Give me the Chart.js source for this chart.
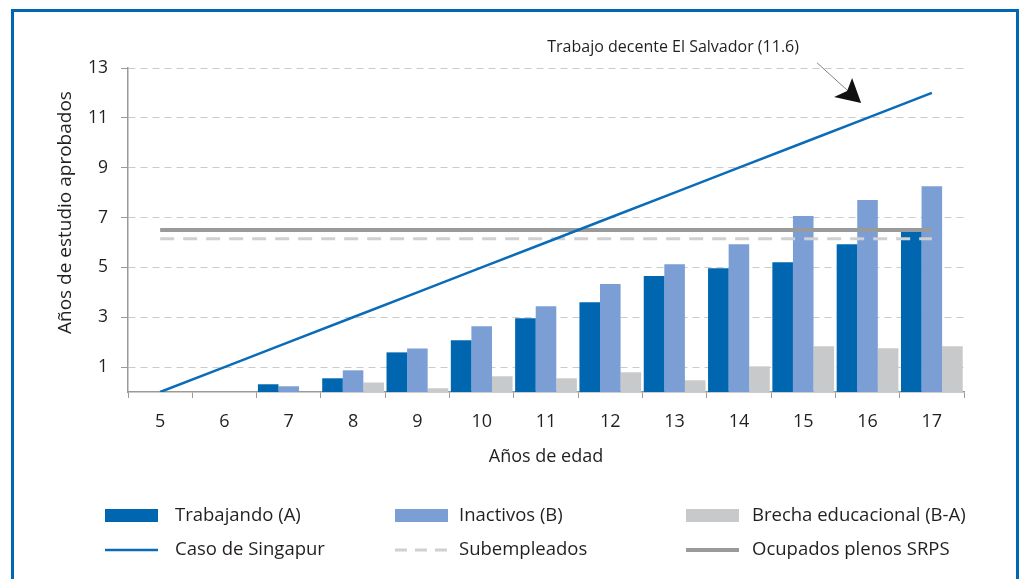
<!DOCTYPE html>
<html>
<head>
<meta charset="utf-8">
<script src="https://cdn.jsdelivr.net/npm/chart.js@4.4.0/dist/chart.umd.min.js"></script>
<style>
  body { margin: 0; background: #fff; }
  #frame {
    position: absolute; left: 11px; top: 9px;
    width: 1002px; height: 620px;
    border: 3px solid #0068b3;
  }
  #box { position: absolute; left: 0; top: 0; width: 1019px; height: 579px; }
</style>
</head>
<body>
<div id="frame"></div>
<div id="box"><canvas id="myChart" width="1019" height="579"></canvas></div>
<script>
const ctx = document.getElementById("myChart").getContext("2d");

const edades = ["5", "6", "7", "8", "9", "10", "11", "12", "13", "14", "15", "16", "17"];
const trabajando = [null, null, 0.31, 0.55, 1.59, 2.08, 2.96, 3.60, 4.65, 4.97, 5.21, 5.93, 6.42];
const inactivos = [null, null, 0.23, 0.87, 1.75, 2.64, 3.44, 4.33, 5.13, 5.93, 7.06, 7.70, 8.26];
const brecha = [null, null, -0.08, 0.38, 0.15, 0.63, 0.55, 0.79, 0.47, 1.03, 1.84, 1.76, 1.84];
const singapur = [0, 1, 2, 3, 4, 5, 6, 7, 8, 9, 10, 11, 12];
const subempleados = [6.15, 6.15, 6.15, 6.15, 6.15, 6.15, 6.15, 6.15, 6.15, 6.15, 6.15, 6.15, 6.15];
const ocupadosSRPS = [6.5, 6.5, 6.5, 6.5, 6.5, 6.5, 6.5, 6.5, 6.5, 6.5, 6.5, 6.5, 6.5];
const yTicks = [1, 3, 5, 7, 9, 11, 13];
const trabajoDecente = 11.6;

const FONT = "'Open Sans', sans-serif";
const TEXT = "#231f20";

// legend drawn by hand: 3 columns x 2 rows
const legendPlugin = {
    id: "legendGrid",
    afterDraw(chart) {
        const c = chart.ctx;
        const items = [
            { label: "Trabajando (A)", type: "box", color: "#0066b0" },
            { label: "Inactivos (B)", type: "box", color: "#7b9fd4" },
            { label: "Brecha educacional (B-A)", type: "box", color: "#c8c9cb" },
            { label: "Caso de Singapur", type: "line", color: "#0a6cb8", width: 2.5 },
            { label: "Subempleados", type: "line", color: "#cfd0d2", width: 3, dash: [12, 8] },
            { label: "Ocupados plenos SRPS", type: "line", color: "#999a9c", width: 4 }
        ];
        const boxX = [105, 395, 686];
        const textX = [175, 459, 752];
        const rowY = [516, 550];
        c.save();
        c.font = "18.5px " + FONT;
        c.fillStyle = TEXT;
        c.textBaseline = "middle";
        items.forEach((it, i) => {
            const col = i % 3, row = Math.floor(i / 3);
            const y = rowY[row];
            if (it.type === "box") {
                c.fillStyle = it.color;
                c.fillRect(boxX[col], y - 7, 53, 13);
            } else {
                c.strokeStyle = it.color;
                c.lineWidth = it.width;
                c.setLineDash(it.dash || []);
                c.beginPath();
                c.moveTo(boxX[col], y);
                c.lineTo(boxX[col] + 53, y);
                c.stroke();
                c.setLineDash([]);
            }
            c.fillStyle = TEXT;
            c.fillText(it.label, textX[col], y);
        });
        c.restore();
    }
};

// arrow + label "Trabajo decente El Salvador", plus y axis title
const notePlugin = {
    id: "note",
    afterDraw(chart) {
        const c = chart.ctx;
        const x = chart.scales.x, y = chart.scales.y;
        const tx = x.getPixelForValue(10.9);
        const ty = y.getPixelForValue(trabajoDecente);
        c.save();
        c.strokeStyle = "#808080";
        c.lineWidth = 1;
        c.beginPath();
        c.moveTo(tx - 44, ty - 40);
        c.lineTo(tx - 12, ty - 11);
        c.stroke();
        c.fillStyle = "#111";
        c.beginPath();
        c.moveTo(tx, ty);
        c.lineTo(tx - 27, ty - 6);
        c.lineTo(tx - 14, ty - 12);
        c.lineTo(tx - 9, ty - 25);
        c.closePath();
        c.fill();
        c.font = "16px " + FONT;
        c.fillStyle = TEXT;
        c.textAlign = "center";
        c.textBaseline = "middle";
        c.fillText("Trabajo decente El Salvador (" + trabajoDecente + ")", tx - 188, ty - 55);

        // y title, a bit above the middle like the original
        c.translate(y.left + 21, y.getPixelForValue(7.2));
        c.rotate(-Math.PI / 2);
        c.font = "19px " + FONT;
        c.fillText("Años de estudio aprobados", 0, 0);
        c.restore();
    }
};

const data = {
    labels: edades,
    datasets: [
        {
            type: "line", label: "Caso de Singapur", data: singapur,
            borderColor: "#0a6cb8", borderWidth: 2.5, pointRadius: 0, order: 0
        },
        {
            type: "line", label: "Ocupados plenos SRPS", data: ocupadosSRPS,
            borderColor: "#999a9c", borderWidth: 4, pointRadius: 0, order: 1
        },
        {
            type: "line", label: "Subempleados", data: subempleados,
            borderColor: "#cfd0d2", borderWidth: 3, borderDash: [14, 9], pointRadius: 0, order: 2
        },
        {
            label: "Trabajando (A)", data: trabajando, backgroundColor: "#0066b0",
            categoryPercentage: 0.96, barPercentage: 1, order: 5
        },
        {
            label: "Inactivos (B)", data: inactivos, backgroundColor: "#7b9fd4",
            categoryPercentage: 0.96, barPercentage: 1, order: 5
        },
        {
            label: "Brecha educacional (B-A)", data: brecha, backgroundColor: "#c8c9cb",
            categoryPercentage: 0.96, barPercentage: 1, order: 5
        }
    ]
};

const config = {
    type: "bar",
    data: data,
    options: {
        responsive: false,
        animation: false,
        layout: { padding: { left: 45, right: 55, top: 68, bottom: 107 } },
        plugins: {
            legend: { display: false },
            tooltip: { enabled: false }
        },
        scales: {
            x: {
                offset: true,
                afterFit(scale) { scale.height = 80; },
                grid: { offset: true, drawOnChartArea: false, tickLength: 6, tickColor: "#9a9a9a" },
                border: { color: "#9a9a9a", width: 1.5 },
                ticks: { color: TEXT, font: { family: FONT, size: 18 }, padding: 13 },
                title: {
                    display: true, text: "Años de edad", color: TEXT,
                    font: { family: FONT, size: 18 }, padding: { bottom: 4 }
                }
            },
            y: {
                min: 0,
                max: 13,
                afterFit(scale) { scale.width = 83; },
                afterBuildTicks(scale) { scale.ticks = yTicks.map(v => ({ value: v })); },
                grid: { color: "#c9cacc", lineWidth: 1, tickLength: 7, tickColor: "#9a9a9a" },
                border: { color: "#9a9a9a", width: 1.5, dash: [7, 5] },
                ticks: { color: TEXT, font: { family: FONT, size: 17.5 }, padding: 13 }
            }
        }
    },
    plugins: [legendPlugin, notePlugin]
};

const myChart = new Chart(ctx, config);
</script>
</body>
</html>
